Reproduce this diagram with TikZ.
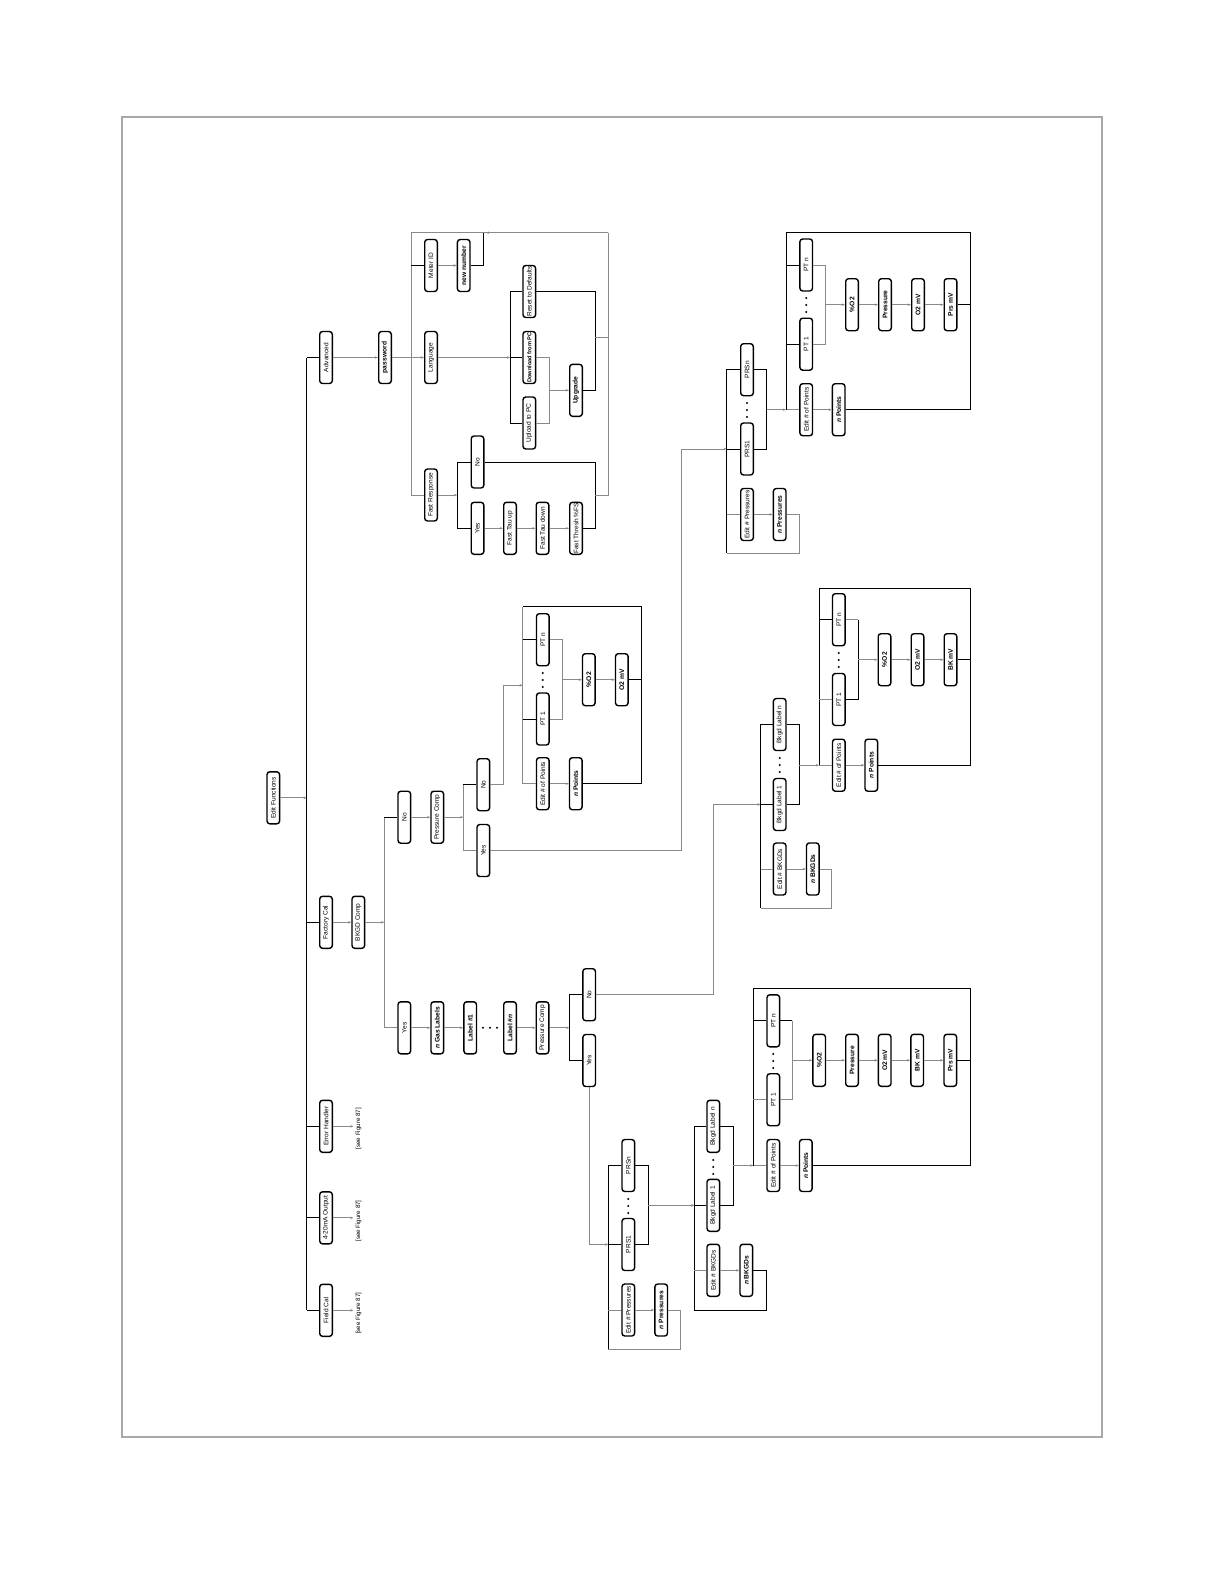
\documentclass[tikz,border=0pt]{standalone}
\usepackage{fontspec}
\setmainfont{Liberation Sans}
\usepackage{graphicx}
\usetikzlibrary{arrows.meta,calc}
\definecolor{lgray}{HTML}{8A8A8A}
\definecolor{bgray}{HTML}{A8A8A8}
\tikzset{
 box/.style={draw=black, line width=2pt, rounded corners=4pt, fill=white, minimum width=0.63cm, minimum height=2.6cm, inner sep=0pt, font=\fontsize{9.3}{10}\selectfont},
 boxb/.style={box, font=\fontsize{9.5}{10}\selectfont\bfseries},
 boxs/.style={box, font=\fontsize{8}{9}\selectfont\bfseries},
 gl/.style={draw=lgray, line width=1.2pt},
 bl/.style={draw=black, line width=1.3pt},
 arr/.style={-{Stealth[length=4.5pt,width=3.5pt]}},
 note/.style={inner sep=3pt, font=\fontsize{8.8}{10}\selectfont},
}
\newcommand\bx[4][box]{\node[#1] (#2) at (#3) {\rotatebox{90}{#4}};}
\newcommand\dotsV[2]{\foreach \d in {-7,0,7}{\fill ({#1},{#2+\d}) circle[radius=1.6pt];}}
\newcommand\dotsH[2]{\foreach \d in {-7,0,7}{\fill ({#1+\d},{#2}) circle[radius=1.6pt];}}
\begin{document}
\begin{tikzpicture}[x=0.05cm,y=-0.05cm]
\fill[white] (0,0) rectangle (1224,1584);
\useasboundingbox (0,0) rectangle (1224,1584);
\draw[bgray, line width=2.8pt] (121.7,116.7) rectangle (1101.7,1436.7);

% ---------- nodes ----------
\bx{ef}{273.3,797.8}{Edit Functions}
\bx{adv}{326,357.5}{Advanced}
\bx{fac}{326,922.3}{Factory Cal}
\bx{err}{326,1126.3}{Error Handler}
\bx{out}{326,1217.8}{4-20mA Output}
\bx{fld}{326,1310.3}{Field Cal}
\node[note] (errs) at (358.5,1128.7) {\rotatebox{90}{[see Figure 87]}};
\node[note] (outs) at (358.5,1221) {\rotatebox{90}{[see Figure 87]}};
\node[note] (flds) at (358.5,1313.3) {\rotatebox{90}{[see Figure 87]}};

\bx[boxb]{pwd}{385,357.5}{password}
\bx{lang}{431,357.5}{Language}
\bx{mid}{431,265.5}{Meter ID}
\bx[boxb]{nnum}{463.7,265.5}{new number}
\bx{fr}{431,495}{Fast Response}
\bx{frno}{477.5,462}{No}
\bx{fryes}{477.5,528.3}{Yes}
\bx{ftu}{510,528.3}{Fast Tau up}
\bx{ftd}{542.5,528.3}{Fast Tau down}
\bx{fth}{576,528.3}{Fast Thresh \%FS}
\bx{rst}{529.3,291.5}{Reset to Defaults}
\bx[boxs]{dl}{529.3,357.5}{Download from PC}
\bx{ul}{529.3,423}{Upload to PC}
\bx[boxb]{upg}{576,390.3}{Upgrade}

\bx{bkgd}{358.3,922.3}{BKGD Comp}
\bx{no1}{404.3,817.2}{No}
\bx{pc1}{437.3,817.2}{Pressure Comp}
\bx{no2}{483.3,784.7}{No}
\bx{yes2}{483.3,850.5}{Yes}
\bx{yes1}{404.3,1027.8}{Yes}
\bx[boxb]{ngas}{437.3,1027.8}{\textit{n} Gas Labels}
\bx[boxb]{lab1}{470.2,1027.8}{Label \#1}
\bx[boxb]{labn}{510,1027.8}{Label \#\textit{n}}
\bx{pc2}{542.5,1027.8}{Pressure Comp}
\bx{no3}{589.2,994.7}{No}
\bx{yes3}{589.2,1060.5}{Yes}

% group A
\bx{gAptn}{542.8,639.7}{PT n}
\bx{gApt1}{542.8,719}{PT 1}
\bx{gAept}{542.8,783.7}{Edit \# of Points}
\bx[boxb]{gAnpt}{575.8,783.7}{\textit{n} Points}
\bx[boxb]{gAo2}{588.8,679.7}{\%O2}
\bx[boxb]{gAmv}{621.8,679.7}{O2 mV}

% group B
\bx{gBprsn}{747,369.7}{PRSn}
\bx{gBprs1}{747,449}{PRS1}
\bx{gBeprs}{747,514.5}{Edit \# Pressures}
\bx[boxb]{gBnprs}{779.7,514.5}{\textit{n} Pressures}
\bx{gBptn}{806.2,265}{PT n}
\bx{gBpt1}{806.2,344.2}{PT 1}
\bx{gBept}{806.2,409.7}{Edit \# of Points}
\bx[boxb]{gBnpt}{838.7,409.7}{\textit{n} Points}
\bx[boxb]{gBo2}{852,304.7}{\%O2}
\bx[boxb]{gBpr}{885,304.7}{Pressure}
\bx[boxb]{gBmv}{918,304.7}{O2 mV}
\bx[boxb]{gBpmv}{950.5,304.7}{Prs mV}

% group C
\bx{gCbln}{779.7,724.5}{Bkgd Label n}
\bx{gCbl1}{779.7,804.5}{Bkgd Label 1}
\bx{gCebk}{779.7,869}{Edit \# BKGDs}
\bx[boxb]{gCnbk}{812.8,869}{\textit{n} BKGDs}
\bx{gCptn}{838.8,619.7}{PT n}
\bx{gCpt1}{838.8,699.5}{PT 1}
\bx{gCept}{838.8,765.2}{Edit \# of Points}
\bx[boxb]{gCnpt}{871.3,765.2}{\textit{n} Points}
\bx[boxb]{gCo2}{884.5,659.7}{\%O2}
\bx[boxb]{gCmv}{917.5,659.7}{O2 mV}
\bx[boxb]{gCbk}{950.5,659.7}{BK mV}

% group D
\bx{gDprsn}{628.3,1165.5}{PRSn}
\bx{gDprs1}{628.3,1244.5}{PRS1}
\bx{gDeprs}{628.3,1310}{Edit \# Pressures}
\bx[boxb]{gDnprs}{661.2,1310}{\textit{n} Pressures}
\bx{gDbln}{713.3,1126.3}{Bkgd Label n}
\bx{gDbl1}{713.3,1205.3}{Bkgd Label 1}
\bx{gDebk}{713.3,1270.3}{Edit \# BKGDs}
\bx[boxb]{gDnbk}{746.3,1270.3}{\textit{n} BKGDs}
\bx{gDptn}{773.3,1020.8}{PT n}
\bx{gDpt1}{773.3,1099.7}{PT 1}
\bx{gDept}{773.3,1165.5}{Edit \# of Points}
\bx[boxb]{gDnpt}{805.8,1165.5}{\textit{n} Points}
\bx[boxb]{gDo2}{819.2,1060.3}{\%O2}
\bx[boxb]{gDpr}{852,1060.3}{Pressure}
\bx[boxb]{gDmv}{884.7,1060.3}{O2 mV}
\bx[boxb]{gDbk}{917.2,1060.3}{BK mV}
\bx[boxb]{gDpmv}{950.3,1060.3}{Prs mV}

% dots
\dotsV{542.8}{680}
\dotsV{747}{410}
\dotsV{806.2}{305}
\dotsV{779.7}{765}
\dotsV{838.8}{660}
\dotsV{628.3}{1206}
\dotsV{713.3}{1167}
\dotsV{773.3}{1061}
\dotsH{490}{1027.8}

% ---------- coordinates ----------
\coordinate (sp) at (306.7,357.5);
\coordinate (atop) at (411,232.7);
\coordinate (aright) at (608.3,232.7);
\coordinate (atopm) at (486,232.7);
\coordinate (nloop) at (483.3,232.7);
\coordinate (lb) at (510,0);
\coordinate (um) at (549.3,0);
\coordinate (ar) at (595,0);
\coordinate (lret) at (595,337.3);
\coordinate (fb) at (457.3,0);
\coordinate (fb1) at (384.3,0);
\coordinate (fb2) at (463.3,0);
\coordinate (fb3) at (569.3,0);
\coordinate (aturn) at (503.3,685.3);
\coordinate (gAb) at (522.7,606.7);
\coordinate (gAr) at (641.7,606.7);
\coordinate (gAm) at (562.7,0);
\coordinate (bturn) at (681.7,449);
\coordinate (gBb) at (726.7,0);
\coordinate (gBl) at (799,553.3);
\coordinate (gBm) at (766.7,0);
\coordinate (gBp) at (786,232.7);
\coordinate (gBr) at (970.7,232.7);
\coordinate (gBm2) at (825.7,0);
\coordinate (cturn) at (713.3,804.5);
\coordinate (gCb) at (760.7,0);
\coordinate (gCl) at (831.7,908.3);
\coordinate (gCm) at (799.3,0);
\coordinate (gCp) at (819,588.3);
\coordinate (gCr) at (970,588.3);
\coordinate (gCm2) at (858.3,0);
\coordinate (gDb) at (608.3,0);
\coordinate (gDl) at (680.7,1349.3);
\coordinate (gDm) at (648.3,0);
\coordinate (gDk) at (694.3,0);
\coordinate (gDkl) at (766,1310);
\coordinate (gDm2) at (733.3,0);
\coordinate (gDp) at (753.3,988.3);
\coordinate (gDr) at (970,988.3);
\coordinate (gDm3) at (792.3,0);

% ---------- connectors ----------
\draw[gl,arr] (ef.east) -- (ef.east -| sp);
\draw[bl] (adv.west -| sp) -- (fld.west -| sp);
\foreach \n in {adv,fac,err,out,fld} {\draw[bl] (\n.west) -- (\n.west -| sp);}
\draw[gl,arr] (err.east) -- (err.east -| errs.west);
\draw[gl,arr] (out.east) -- (out.east -| outs.west);
\draw[gl,arr] (fld.east) -- (fld.east -| flds.west);

% advanced
\draw[gl,arr] (adv) -- (pwd);
\draw[gl,arr] (pwd) -- (lang);
\draw[gl] (aright) -- (atop) -- (fr.west -| atop);
\draw[gl,arr] (aright) -- (atopm);
\draw[bl] (mid.west -| atop) -- (mid.west);
\draw[gl] (fr.west -| atop) -- (fr.west);
\draw[gl,arr] (mid) -- (nnum);
\draw[bl] (nnum.east) -| (nloop);
\draw[gl,arr] (lang.east) -- (lang.east -| lb);
\draw[bl] (rst.west) -- (rst.west -| lb) -- (ul.west -| lb) -- (ul.west);
\draw[bl] (dl.west -| lb) -- (dl.west);
\draw[gl] (dl.east) -- (dl.east -| um) -- (ul.east -| um) -- (ul.east);
\draw[gl,arr] (upg.west -| um) -- (upg.west);
\draw[bl] (rst.east) -- (rst.east -| ar) -- (upg.east -| ar) -- (upg.east);
\draw[gl] (lret) -- (lret -| aright);
\draw[gl,arr] (fr.east) -- (fr.east -| fb);
\draw[bl] (frno.west) -- (frno.west -| fb) -- (fryes.west -| fb) -- (fryes.west);
\draw[gl,arr] (fryes) -- (ftu);
\draw[gl,arr] (ftu) -- (ftd);
\draw[gl,arr] (ftd) -- (fth);
\draw[bl] (frno.east) -- (frno.east -| ar) -- (fth.east -| ar) -- (fth.east);
\draw[gl] (fr.east -| ar) -- (fr.east -| aright) -- (aright);

% factory cal
\draw[gl,arr] (fac) -- (bkgd);
\draw[gl,arr] (bkgd.east) -- (bkgd.east -| fb1);
\draw[gl] (no1.west -| fb1) -- (yes1.west -| fb1) -- (yes1.west);
\draw[bl] (no1.west -| fb1) -- (no1.west);
\draw[gl,arr] (no1) -- (pc1);
\draw[gl,arr] (pc1.east) -- (pc1.east -| fb2);
\draw[gl] (no2.west -| fb2) -- (yes2.west -| fb2) -- (yes2.west);
\draw[bl] (no2.west -| fb2) -- (no2.west);

% group A
\draw[gl,arr] (no2.east) -| (aturn) -- (aturn -| gAb);
\draw[gl] (gAb) -- (gAept.west -| gAb) -- (gAept.west);
\draw[bl] (gAb) -- (gAr) -- (gAnpt.east -| gAr) -- (gAnpt.east);
\draw[bl] (gAptn.west -| gAb) -- (gAptn.west);
\draw[bl] (gApt1.west -| gAb) -- (gApt1.west);
\draw[gl,arr] (gAept) -- (gAnpt);
\draw[gl] (gAptn.east) -- (gAptn.east -| gAm) -- (gApt1.east -| gAm) -- (gApt1.east);
\draw[gl,arr] (gAo2.west -| gAm) -- (gAo2.west);
\draw[gl,arr] (gAo2) -- (gAmv);
\draw[bl] (gAmv.east) -- (gAmv.east -| gAr);

% group B
\draw[gl,arr] (yes2.east) -| (bturn) -- (bturn -| gBb);
\draw[bl] (gBprsn.west) -- (gBprsn.west -| gBb) -- (gBl -| gBb);
\draw[bl] (gBprs1.west -| gBb) -- (gBprs1.west);
\draw[gl] (gBeprs.west -| gBb) -- (gBeprs.west);
\draw[gl,arr] (gBeprs) -- (gBnprs);
\draw[gl] (gBnprs.east) -| (gBl) -- (gBl -| gBb);
\draw[bl] (gBprsn.east) -- (gBprsn.east -| gBm) -- (gBprs1.east -| gBm) -- (gBprs1.east);
\draw[gl,arr] (gBept.west -| gBm) -- (gBept.west -| gBp);
\draw[gl] (gBept.west -| gBp) -- (gBept.west);
\draw[bl] (gBr) -- (gBp) -- (gBept.west -| gBp);
\draw[bl] (gBptn.west -| gBp) -- (gBptn.west);
\draw[bl] (gBpt1.west -| gBp) -- (gBpt1.west);
\draw[gl,arr] (gBept) -- (gBnpt);
\draw[gl] (gBptn.east) -- (gBptn.east -| gBm2) -- (gBpt1.east -| gBm2) -- (gBpt1.east);
\draw[gl,arr] (gBo2.west -| gBm2) -- (gBo2.west);
\draw[gl,arr] (gBo2) -- (gBpr);
\draw[gl,arr] (gBpr) -- (gBmv);
\draw[gl,arr] (gBmv) -- (gBpmv);
\draw[bl] (gBpmv.east) -- (gBpmv.east -| gBr);
\draw[bl] (gBnpt.east) -- (gBnpt.east -| gBr) -- (gBr);

% factory yes branch
\draw[gl,arr] (yes1) -- (ngas);
\draw[gl,arr] (ngas) -- (lab1);
\draw[gl,arr] (labn) -- (pc2);
\draw[gl,arr] (pc2.east) -- (pc2.east -| fb3);
\draw[bl] (no3.west) -- (no3.west -| fb3) -- (yes3.west -| fb3) -- (yes3.west);

% group C
\draw[gl,arr] (no3.east) -| (cturn) -- (cturn -| gCb);
\draw[bl] (gCbln.west) -- (gCbln.west -| gCb) -- (gCl -| gCb);
\draw[bl] (gCbl1.west -| gCb) -- (gCbl1.west);
\draw[gl] (gCebk.west -| gCb) -- (gCebk.west);
\draw[gl,arr] (gCebk) -- (gCnbk);
\draw[gl] (gCnbk.east) -| (gCl) -- (gCl -| gCb);
\draw[bl] (gCbln.east) -- (gCbln.east -| gCm) -- (gCbl1.east -| gCm) -- (gCbl1.east);
\draw[gl,arr] (gCept.west -| gCm) -- (gCept.west -| gCp);
\draw[gl] (gCept.west -| gCp) -- (gCept.west);
\draw[bl] (gCr) -- (gCp) -- (gCept.west -| gCp);
\draw[bl] (gCptn.west -| gCp) -- (gCptn.west);
\draw[gl] (gCpt1.west -| gCp) -- (gCpt1.west);
\draw[gl,arr] (gCept) -- (gCnpt);
\draw[gl] (gCptn.east) -- (gCptn.east -| gCm2);
\draw[bl] (gCptn.east -| gCm2) -- (gCpt1.east -| gCm2) -- (gCpt1.east);
\draw[gl,arr] (gCo2.west -| gCm2) -- (gCo2.west);
\draw[gl,arr] (gCo2) -- (gCmv);
\draw[gl,arr] (gCmv) -- (gCbk);
\draw[bl] (gCbk.east) -- (gCbk.east -| gCr);
\draw[bl] (gCnpt.east) -- (gCnpt.east -| gCr) -- (gCr);

% group D
\draw[gl,arr] (yes3.south) |- (gDprs1.west -| gDb);
\draw[bl] (gDprsn.west) -- (gDprsn.west -| gDb) -- (gDl -| gDb);
\draw[bl] (gDprs1.west -| gDb) -- (gDprs1.west);
\draw[gl] (gDeprs.west -| gDb) -- (gDeprs.west);
\draw[gl,arr] (gDeprs) -- (gDnprs);
\draw[gl] (gDnprs.east) -| (gDl) -- (gDl -| gDb);
\draw[bl] (gDprsn.east) -- (gDprsn.east -| gDm) -- (gDprs1.east -| gDm) -- (gDprs1.east);
\draw[gl,arr] (gDbl1.west -| gDm) -- (gDbl1.west -| gDk);
\draw[bl] (gDbl1.west -| gDk) -- (gDbl1.west);
\draw[bl] (gDbln.west) -- (gDbln.west -| gDk) -- (gDkl -| gDk);
\draw[gl] (gDebk.west -| gDk) -- (gDebk.west);
\draw[gl,arr] (gDebk) -- (gDnbk);
\draw[bl] (gDnbk.east) -| (gDkl) -- (gDkl -| gDk);
\draw[bl] (gDbln.east) -- (gDbln.east -| gDm2) -- (gDbl1.east -| gDm2) -- (gDbl1.east);
\draw[gl,arr] (gDept.west -| gDm2) -- (gDept.west -| gDp);
\draw[gl] (gDept.west -| gDp) -- (gDept.west);
\draw[bl] (gDr) -- (gDp) -- (gDept.west -| gDp);
\draw[bl] (gDptn.west -| gDp) -- (gDptn.west);
\draw[gl] (gDpt1.west -| gDp) -- (gDpt1.west);
\draw[gl,arr] (gDept) -- (gDnpt);
\draw[bl] (gDptn.east) -- (gDptn.east -| gDm3);
\draw[gl] (gDptn.east -| gDm3) -- (gDpt1.east -| gDm3) -- (gDpt1.east);
\draw[gl,arr] (gDo2.west -| gDm3) -- (gDo2.west);
\draw[gl,arr] (gDo2) -- (gDpr);
\draw[gl,arr] (gDpr) -- (gDmv);
\draw[gl,arr] (gDmv) -- (gDbk);
\draw[gl,arr] (gDbk) -- (gDpmv);
\draw[bl] (gDpmv.east) -- (gDpmv.east -| gDr);
\draw[bl] (gDnpt.east) -- (gDnpt.east -| gDr) -- (gDr);
\end{tikzpicture}
\end{document}
